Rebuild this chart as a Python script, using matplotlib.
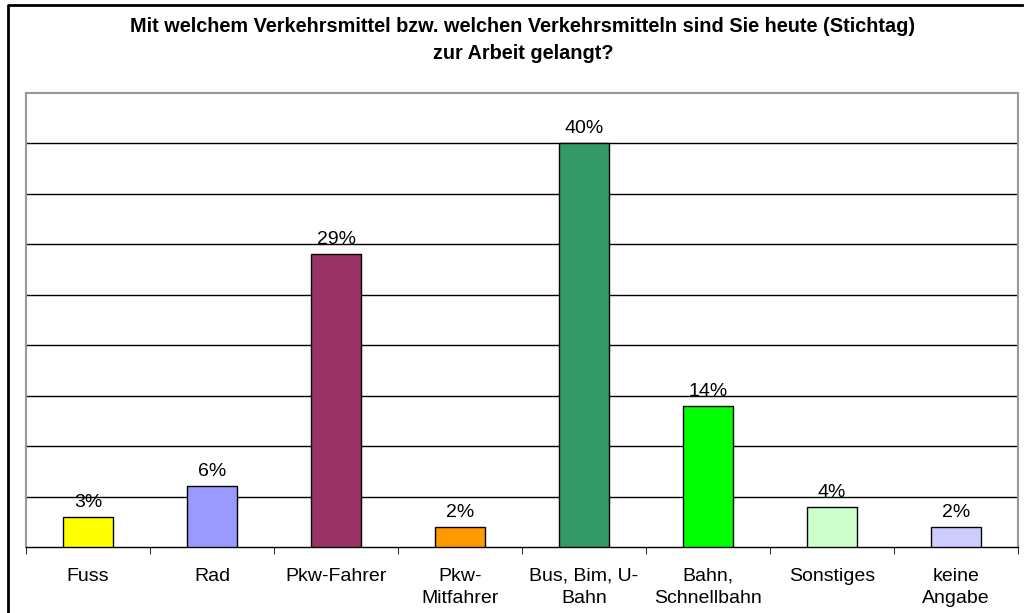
import matplotlib.pyplot as plt
from matplotlib.lines import Line2D

plt.rcParams['font.family'] = ['Liberation Sans', 'DejaVu Sans']

categories = ["Fuss", "Rad", "Pkw-Fahrer", "Pkw-\nMitfahrer", "Bus, Bim, U-\nBahn",
              "Bahn,\nSchnellbahn", "Sonstiges", "keine\nAngabe"]
values = [3, 6, 29, 2, 40, 14, 4, 2]
colors = ["#FFFF00", "#9999FF", "#993366", "#FF9900", "#339966", "#00FF00", "#CCFFCC", "#CCCCFF"]
title = "Mit welchem Verkehrsmittel bzw. welchen Verkehrsmitteln sind Sie heute (Stichtag)\nzur Arbeit gelangt?"

fig = plt.figure(figsize=(10.24, 6.13), dpi=100)
ax = fig.add_axes([26 / 1024, 1 - 547 / 613, (1018 - 26) / 1024, (547 - 93) / 613])

x = list(range(len(values)))
ax.bar(x, values, width=0.4, color=colors, edgecolor="black", linewidth=1, zorder=3)
for xi, v in zip(x, values):
    ax.text(xi, v + 0.6, f"{v}%", ha="center", va="bottom", fontsize=14, zorder=4)

ax.set_xlim(-0.5, len(values) - 0.5)
ax.set_ylim(0, 45)
ax.set_yticks([])
for g in range(5, 45, 5):
    ax.axhline(g, color="black", linewidth=1, zorder=1)

ax.set_xticks(x)
ax.set_xticklabels(categories, fontsize=14, linespacing=1.4)
ax.tick_params(axis="x", length=0, pad=15)
ax.set_xticks([i - 0.5 for i in range(len(values) + 1)], minor=True)
ax.tick_params(axis="x", which="minor", length=5, direction="out", color="black")

for s in ["left", "right", "top"]:
    ax.spines[s].set_color("#999999")
    ax.spines[s].set_linewidth(1.5)
ax.spines["bottom"].set_color("black")
ax.spines["bottom"].set_linewidth(1)

fig.text(523 / 1024, 1 - 40 / 613, title, ha="center", va="center", fontsize=14.3,
         fontweight="bold", linespacing=1.5)

# outer frame (only left and top visible in the crop)
fig.add_artist(Line2D([8 / 1024, 8 / 1024, 1022 / 1024], [0, 1 - 5 / 613, 1 - 5 / 613],
                      transform=fig.transFigure, color="black", linewidth=2))

fig.savefig("out.png", dpi=100)
